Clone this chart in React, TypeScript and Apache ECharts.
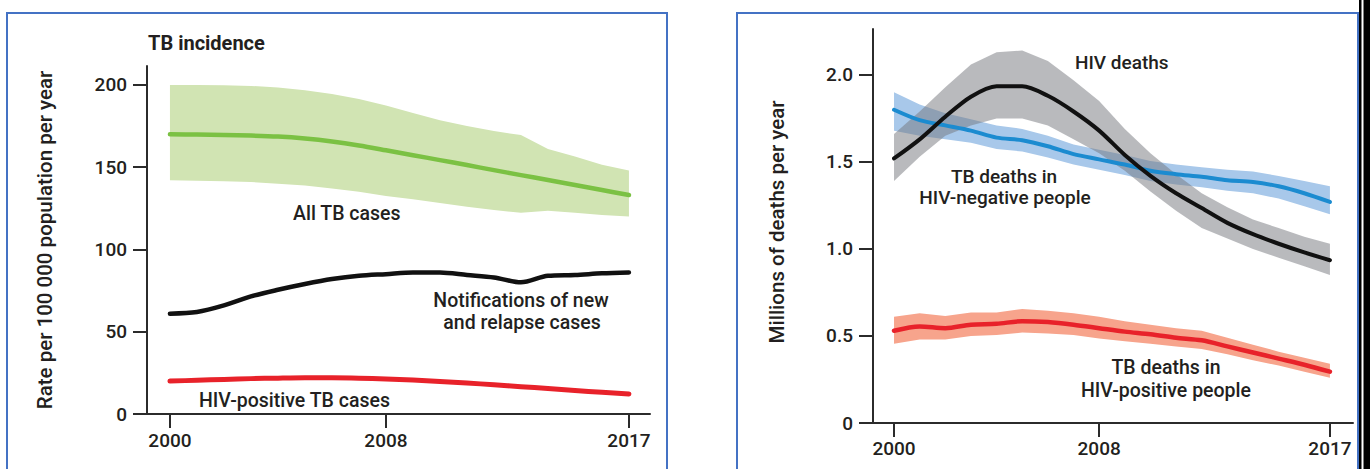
import React, { useEffect, useRef } from "react";
import * as echarts from "echarts";

// ---------- Data ----------
const years = [2000, 2001, 2002, 2003, 2004, 2005, 2006, 2007, 2008, 2009, 2010, 2011, 2012, 2013, 2014, 2015, 2016, 2017];

// Left panel: TB incidence (rate per 100 000 population per year)
const allTbCases = [170, 169.8, 169.5, 169.2, 168.6, 167.4, 165.6, 163.2, 160.3, 157.3, 154.3, 151.3, 148.2, 145.2, 142.2, 139.2, 136.1, 133.1];
const allTbUpper = [200, 200, 199.8, 199.4, 198.5, 196.8, 194.5, 191.5, 187.5, 183, 178.5, 175, 172, 169.5, 161, 156.5, 151.5, 148];
const allTbLower = [142, 141.8, 141.5, 141, 140, 138.8, 137, 135, 132.5, 130.5, 128.3, 126, 124, 122.3, 123.5, 122.3, 121, 120];
const notifications = [61, 62, 66, 71.5, 75.5, 79, 82, 84, 85, 86, 86, 84.5, 83, 80, 84, 84.5, 85.5, 86];
const hivPositiveTb = [20, 20.5, 21, 21.5, 21.8, 22, 22, 21.8, 21.3, 20.7, 19.8, 18.8, 17.8, 16.6, 15.5, 14.3, 13.2, 12.2];

// Right panel: millions of deaths per year
const hivDeaths = [1.52, 1.63, 1.76, 1.875, 1.935, 1.935, 1.88, 1.79, 1.68, 1.54, 1.42, 1.32, 1.235, 1.15, 1.085, 1.03, 0.98, 0.935];
const hivDeathsUpper = [1.66, 1.79, 1.93, 2.06, 2.13, 2.14, 2.08, 1.97, 1.85, 1.69, 1.55, 1.43, 1.32, 1.24, 1.17, 1.12, 1.07, 1.03];
const hivDeathsLower = [1.39, 1.53, 1.65, 1.71, 1.75, 1.75, 1.71, 1.63, 1.55, 1.45, 1.33, 1.22, 1.12, 1.06, 1.0, 0.95, 0.9, 0.85];
const tbHivNeg = [1.8, 1.74, 1.71, 1.68, 1.64, 1.625, 1.59, 1.545, 1.515, 1.485, 1.45, 1.43, 1.415, 1.395, 1.385, 1.36, 1.32, 1.27];
const tbHivNegUpper = [1.9, 1.83, 1.78, 1.745, 1.71, 1.69, 1.65, 1.6, 1.57, 1.54, 1.505, 1.485, 1.47, 1.455, 1.445, 1.42, 1.39, 1.36];
const tbHivNegLower = [1.68, 1.65, 1.63, 1.61, 1.575, 1.56, 1.525, 1.485, 1.455, 1.425, 1.39, 1.37, 1.355, 1.335, 1.32, 1.29, 1.245, 1.2];
const tbHivPos = [0.53, 0.555, 0.545, 0.565, 0.57, 0.585, 0.58, 0.565, 0.545, 0.525, 0.51, 0.49, 0.475, 0.44, 0.405, 0.37, 0.335, 0.295];
const tbHivPosUpper = [0.61, 0.63, 0.615, 0.635, 0.635, 0.655, 0.645, 0.63, 0.61, 0.585, 0.565, 0.545, 0.53, 0.49, 0.45, 0.41, 0.375, 0.34];
const tbHivPosLower = [0.455, 0.48, 0.48, 0.5, 0.505, 0.52, 0.515, 0.505, 0.485, 0.47, 0.455, 0.44, 0.425, 0.395, 0.36, 0.33, 0.295, 0.26];

// Tick labels
const yearTicks = [2000, 2008, 2017];
const leftYTicks = [0, 50, 100, 150, 200];
const rightYTicks = [0, 0.5, 1.0, 1.5, 2.0];

// ---------- Helpers ----------
const FONT = "Roboto, 'Noto Sans', sans-serif";
const TEXT = "#231f20";
const AXIS = "#2b2b2b";
const WEIGHT = 500;

const pts = (vals: number[]) => years.map((y, i) => [y, vals[i]]);

function band(name: string, up: number[], lo: number[], color: string, xi: number, z: number) {
  const data = years.map((y, i) => [y, lo[i], up[i]]);
  return {
    name,
    type: "custom",
    xAxisIndex: xi,
    yAxisIndex: xi,
    coordinateSystem: "cartesian2d",
    data,
    silent: true,
    z,
    encode: { x: 0, y: [1, 2] },
    renderItem: (params: any, api: any) => {
      if (params.dataIndex !== 0) return null;
      const upper = data.map((d) => api.coord([d[0], d[2]]));
      const lower = data.map((d) => api.coord([d[0], d[1]])).reverse();
      return {
        type: "polygon",
        shape: { points: upper.concat(lower) },
        style: { fill: color, stroke: "none" },
      };
    },
  };
}

function line(name: string, vals: number[], color: string, width: number, xi: number, z: number) {
  return {
    name,
    type: "line",
    xAxisIndex: xi,
    yAxisIndex: xi,
    data: pts(vals),
    symbol: "none",
    smooth: 0.3,
    lineStyle: { color, width, cap: "round", join: "round" },
    z,
  };
}

function xAxis(gridIndex: number, min: number, max: number, margin: number) {
  return {
    type: "value",
    gridIndex,
    min,
    max,
    axisLine: { show: true, onZero: false, lineStyle: { color: AXIS, width: 2 } },
    axisTick: { show: true, customValues: yearTicks, length: 14, lineStyle: { color: AXIS, width: 2 } },
    axisLabel: {
      customValues: yearTicks,
      margin,
      color: TEXT,
      fontSize: 19,
      fontWeight: WEIGHT,
      fontFamily: FONT,
      formatter: (v: number) => String(v),
    },
    splitLine: { show: false },
  };
}

function yAxis(gridIndex: number, max: number, ticks: number[], fmt: (v: number) => string) {
  return {
    type: "value",
    gridIndex,
    min: 0,
    max,
    axisLine: { show: true, lineStyle: { color: AXIS, width: 2 } },
    axisTick: { show: true, customValues: ticks, length: 14, lineStyle: { color: AXIS, width: 2 } },
    axisLabel: { customValues: ticks, margin: 20, color: TEXT, fontSize: 19, fontWeight: WEIGHT, fontFamily: FONT, formatter: fmt },
    splitLine: { show: false },
  };
}

function txt(text: string, x: number, y: number, align = "center", extra: any = {}) {
  return {
    type: "text",
    x,
    y,
    z: 100,
    style: {
      text,
      fill: TEXT,
      fontSize: 19.5,
      fontWeight: WEIGHT,
      fontFamily: FONT,
      align,
      verticalAlign: "middle",
      ...extra,
    },
  };
}

export default function App() {
  const ref = useRef<HTMLDivElement>(null);

  useEffect(() => {
    if (!ref.current) return;
    const chart = echarts.init(ref.current, undefined, { renderer: "svg" });

    const option: any = {
      animation: false,
      backgroundColor: "#ffffff",
      grid: [
        { left: 147, top: 66, width: 503, height: 348 },
        { left: 873, top: 29, width: 480, height: 394 },
      ],
      xAxis: [xAxis(0, 1999.15, 2017.78, 17), xAxis(1, 1999.18, 2017.9, 16)],
      yAxis: [
        yAxis(0, 211.5, leftYTicks, (v: number) => String(v)),
        yAxis(1, 2.264, rightYTicks, (v: number) => (v === 0 ? "0" : v.toFixed(1))),
      ],
      series: [
        band("All TB cases range", allTbUpper, allTbLower, "#d1e4b3", 0, 2),
        line("All TB cases", allTbCases, "#7bc143", 4.5, 0, 5),
        line("Notifications", notifications, "#111111", 4.5, 0, 5),
        line("HIV-positive TB cases", hivPositiveTb, "#e8222a", 5, 0, 5),

        band("TB deaths HIV-negative range", tbHivNegUpper, tbHivNegLower, "#a8c8ea", 1, 2),
        band("HIV deaths range", hivDeathsUpper, hivDeathsLower, "rgba(118,120,126,0.51)", 1, 3),
        band("TB deaths HIV-positive range", tbHivPosUpper, tbHivPosLower, "#f7a48c", 1, 2),
        line("TB deaths in HIV-negative people", tbHivNeg, "#1b8bd0", 4, 1, 5),
        line("HIV deaths", hivDeaths, "#111111", 4, 1, 6),
        line("TB deaths in HIV-positive people", tbHivPos, "#e8222a", 4.5, 1, 5),
      ],
      graphic: [
        // panel borders
        { type: "rect", shape: { x: 7, y: 13, width: 660, height: 470 }, style: { fill: "none", stroke: "#4472c4", lineWidth: 2 }, z: 0 },
        { type: "rect", shape: { x: 737, y: 13, width: 621, height: 470 }, style: { fill: "none", stroke: "#4472c4", lineWidth: 2 }, z: 0 },
        { type: "rect", shape: { x: 1359, y: 0, width: 2.5, height: 469 }, style: { fill: "#000000" }, z: 0 },
        { type: "rect", shape: { x: 1363.5, y: 0, width: 7, height: 469 }, style: { fill: "#000000" }, z: 0 },
        // titles & axis names
        txt("TB incidence", 148, 43, "left", { fontWeight: "bold", fontSize: 20 }),
        { ...txt("Rate per 100 000 population per year", 45, 240, "center", { fontSize: 20.5 }), rotation: Math.PI / 2 },
        { ...txt("Millions of deaths per year", 777, 222, "center", { fontSize: 20.5 }), rotation: Math.PI / 2 },
        // left annotations
        txt("All TB cases", 293, 213, "left"),
        txt("Notifications of new", 521, 300),
        txt("and relapse cases", 522, 322),
        txt("HIV-positive TB cases", 199, 400, "left"),
        // right annotations
        txt("HIV deaths", 1075, 62, "left", { fontSize: 19 }),
        txt("TB deaths in", 1004, 176, "center", { fontSize: 19 }),
        txt("HIV-negative people", 1005, 197, "center", { fontSize: 19 }),
        txt("TB deaths in", 1166, 367),
        txt("HIV-positive people", 1166, 390),
      ],
    };

    chart.setOption(option);
    return () => chart.dispose();
  }, []);

  return <div ref={ref} style={{ position: "fixed", left: 0, top: 0, width: 1370, height: 469 }} />;
}
